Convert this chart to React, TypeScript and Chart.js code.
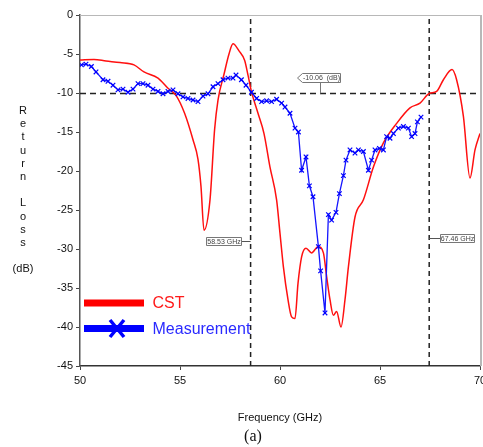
import React, { useEffect, useRef } from "react";
import { Chart, registerables } from "chart.js";

Chart.register(...registerables);

// CST simulation (frequency GHz, return loss dB)
const cstFreq = [50, 50.7, 51.3, 52, 52.7, 53.2, 53.9, 54.4, 54.8, 55.23, 55.65, 55.9, 56.05, 56.2, 56.5, 56.73, 56.9, 57.2, 57.45, 57.65, 57.95, 58.23, 58.4, 58.57, 58.9, 59.2, 59.5, 59.83, 60, 60.17, 60.4, 60.58, 60.75, 60.9, 61.08, 61.3, 61.58, 61.9, 62.17, 62.33, 62.5, 62.67, 62.83, 63.05, 63.25, 63.42, 63.75, 64.17, 64.67, 65.17, 65.83, 66.5, 67, 67.46, 67.83, 68.17, 68.6, 68.83, 69.17, 69.5, 69.75, 70];
const cstDb = [-5.77, -5.7, -5.9, -6.1, -6.4, -7.3, -8.1, -9.4, -10.3, -12.6, -16, -18.5, -22, -27.6, -23.7, -14.7, -10.9, -7.6, -5, -3.7, -4.6, -5.8, -7.7, -9.8, -12.6, -15.2, -19.5, -23.7, -28, -32.3, -36.5, -38.7, -38.9, -34.4, -31, -29.9, -30.5, -29.7, -30.5, -33.5, -36.5, -38.5, -38, -40, -36.5, -32.3, -25.9, -23.7, -19.5, -16.4, -13.9, -11.9, -11.3, -10.06, -9.8, -8.3, -7, -8.3, -13, -20.9, -17.3, -15.2];

// Measurement
const measFreq = [50.07, 50.3, 50.57, 50.8, 51.15, 51.4, 51.65, 51.9, 52.15, 52.4, 52.65, 52.9, 53.15, 53.4, 53.65, 53.9, 54.15, 54.4, 54.65, 54.9, 55.15, 55.4, 55.65, 55.9, 56.15, 56.4, 56.65, 56.9, 57.15, 57.4, 57.65, 57.8, 58.07, 58.3, 58.57, 58.83, 59.08, 59.33, 59.58, 59.83, 60.08, 60.25, 60.5, 60.75, 60.92, 61.08, 61.3, 61.47, 61.65, 61.92, 62.03, 62.25, 62.42, 62.58, 62.8, 62.97, 63.17, 63.3, 63.5, 63.75, 63.92, 64.17, 64.42, 64.58, 64.75, 64.97, 65.17, 65.33, 65.5, 65.67, 65.92, 66.17, 66.42, 66.58, 66.75, 66.87, 67.05];
const measDb = [-6.4, -6.3, -6.6, -7.3, -8.3, -8.5, -9.0, -9.6, -9.5, -9.9, -9.5, -8.8, -8.8, -9.0, -9.5, -9.8, -10.1, -9.8, -9.6, -10.1, -10.5, -10.7, -10.9, -11.1, -10.4, -10.1, -9.2, -8.8, -8.3, -8.1, -8.1, -7.7, -8.3, -9.0, -9.9, -10.7, -11.1, -11.0, -11.1, -10.8, -11.3, -11.8, -12.6, -14.5, -15.0, -19.9, -18.2, -21.9, -23.3, -29.7, -32.8, -38.2, -25.6, -26.3, -25.3, -22.9, -20.6, -18.6, -17.3, -17.7, -17.3, -17.5, -19.9, -18.6, -17.3, -17.1, -17.3, -15.6, -15.8, -15.2, -14.5, -14.3, -14.5, -15.6, -15.2, -13.7, -13.1];

// Markers
const markerLevel = -10.06;
const markerFreqs = [58.53, 67.46];
const xRange = [50, 70];
const yRange = [-45, 0];
const tickStep = 5;

const yTitleParts = ["R", "e", "t", "u", "r", "n", "", "L", "o", "s", "s", "", "(dB)"];

const FONT = "'Liberation Sans', Arial, sans-serif";

const decorPlugin = {
  id: "decor",
  afterDraw(chart: any) {
    const ctx = chart.ctx as CanvasRenderingContext2D;
    const { chartArea } = chart;
    const xs = chart.scales.x;
    const ys = chart.scales.y;
    ctx.save();
    // top & right frame
    ctx.strokeStyle = "#b8b8b8";
    ctx.lineWidth = 1;
    ctx.beginPath();
    ctx.moveTo(chartArea.left, chartArea.top + 0.5);
    ctx.lineTo(chartArea.right + 1, chartArea.top + 0.5);
    ctx.stroke();
    ctx.lineWidth = 2;
    ctx.beginPath();
    ctx.moveTo(chartArea.right + 1, chartArea.top);
    ctx.lineTo(chartArea.right + 1, chartArea.bottom);
    ctx.stroke();

    // Y title stacked letters
    ctx.fillStyle = "#111";
    ctx.font = `11px ${FONT}`;
    ctx.textAlign = "center";
    ctx.textBaseline = "middle";
    const yStart = 111;
    const yStep = 13.2;
    yTitleParts.forEach((t, i) => {
      if (t) ctx.fillText(t, 23, yStart + i * yStep);
    });

    // X title
    ctx.fillText("Frequency (GHz)", 280, 418);
    ctx.font = `16px 'Liberation Serif', 'Times New Roman', serif`;
    ctx.fillText("(a)", 253, 437);

    // annotation boxes
    const drawBox = (x: number, y: number, w: number, h: number, text: string, arrowLeft = false) => {
      ctx.fillStyle = "#fff";
      ctx.strokeStyle = "#777";
      ctx.lineWidth = 1;
      ctx.beginPath();
      if (arrowLeft) {
        ctx.moveTo(x - 5, y + h / 2);
        ctx.lineTo(x, y);
        ctx.lineTo(x + w, y);
        ctx.lineTo(x + w, y + h);
        ctx.lineTo(x, y + h);
        ctx.closePath();
      } else {
        ctx.rect(x, y, w, h);
      }
      ctx.fill();
      ctx.stroke();
      ctx.fillStyle = "#444";
      ctx.font = `7px ${FONT}`;
      ctx.textAlign = "center";
      ctx.textBaseline = "middle";
      ctx.fillText(text, x + w / 2, y + h / 2 + 0.5);
    };

    const yLevel = ys.getPixelForValue(markerLevel);
    const x1 = xs.getPixelForValue(markerFreqs[0]);
    const x2 = xs.getPixelForValue(markerFreqs[1]);

    // -10.06 (dB) callout
    ctx.strokeStyle = "#777";
    ctx.lineWidth = 1;
    ctx.beginPath();
    ctx.moveTo(320.5, 82);
    ctx.lineTo(320.5, yLevel);
    ctx.stroke();
    drawBox(302.5, 73.5, 38, 9, `${markerLevel.toFixed(2)}  (dB)`, true);

    // 58.53 GHz
    ctx.strokeStyle = "#555";
    ctx.beginPath();
    ctx.moveTo(241, 241.5);
    ctx.lineTo(x1, 241.5);
    ctx.stroke();
    drawBox(206.5, 237.5, 35, 8, `${markerFreqs[0].toFixed(2)} GHz`);

    // 67.46 GHz
    ctx.strokeStyle = "#555";
    ctx.beginPath();
    ctx.moveTo(x2, 238.5);
    ctx.lineTo(440, 238.5);
    ctx.stroke();
    drawBox(440.5, 234.5, 34, 8, `${markerFreqs[1].toFixed(2)} GHz`);

    // legend
    ctx.fillStyle = "#ff0000";
    ctx.fillRect(84, 299.5, 60, 7);
    ctx.fillStyle = "#0000ff";
    ctx.fillRect(84, 325, 60, 7);
    ctx.strokeStyle = "#0000ff";
    ctx.lineWidth = 3.5;
    ctx.beginPath();
    ctx.moveTo(110, 320);
    ctx.lineTo(124, 337);
    ctx.moveTo(124, 320);
    ctx.lineTo(110, 337);
    ctx.stroke();
    ctx.font = `16px ${FONT}`;
    ctx.textAlign = "left";
    ctx.textBaseline = "middle";
    ctx.fillStyle = "#ff1a1a";
    ctx.fillText("CST", 152.5, 303.5);
    ctx.fillStyle = "#2a2aff";
    ctx.fillText("Measurement", 152.5, 329.5);
    ctx.restore();
  },
};

export default function App() {
  const ref = useRef<HTMLCanvasElement | null>(null);
  useEffect(() => {
    if (!ref.current) return;
    const dash = {
      borderColor: "#222",
      borderWidth: 1.5,
      borderDash: [6, 4],
      pointRadius: 0,
      fill: false,
      order: 3,
    };
    const chart = new Chart(ref.current, {
      type: "line",
      data: {
        datasets: [
          {
            ...dash,
            data: [
              { x: xRange[0], y: markerLevel },
              { x: xRange[1], y: markerLevel },
            ],
          },
          ...markerFreqs.map((f) => ({
            ...dash,
            borderDash: [5, 4],
            data: [
              { x: f, y: yRange[0] },
              { x: f, y: yRange[1] },
            ],
          })),
          {
            label: "CST",
            data: cstFreq.map((f, i) => ({ x: f, y: cstDb[i] })),
            borderColor: "#ff1010",
            borderWidth: 1.5,
            pointRadius: 0,
            cubicInterpolationMode: "monotone",
            order: 2,
          },
          {
            label: "Measurement",
            data: measFreq.map((f, i) => ({ x: f, y: measDb[i] })),
            borderColor: "#1515ff",
            borderWidth: 1.3,
            pointStyle: "crossRot",
            pointRadius: 3.2,
            pointBorderWidth: 1.2,
            pointBorderColor: "#0000ff",
            order: 1,
          },
        ] as any,
      },
      options: {
        responsive: false,
        animation: false,
        devicePixelRatio: 1,
        layout: { autoPadding: false, padding: { left: 0, right: 3, top: 15, bottom: 0 } } as any,
        plugins: { legend: { display: false }, tooltip: { enabled: false } },
        scales: {
          x: {
            type: "linear",
            min: xRange[0],
            max: xRange[1],
            afterFit: (s: any) => {
              s.height = 81;
              s.paddingLeft = 0;
              s.paddingRight = 0;
            },
            ticks: {
              stepSize: tickStep,
              color: "#111",
              font: { family: FONT, size: 11 },
              padding: 4,
              maxRotation: 0,
            },
            grid: { drawOnChartArea: false, drawTicks: true, tickLength: 4, color: "#444" },
            border: { display: true, color: "#333", width: 1.5 },
          },
          y: {
            type: "linear",
            min: yRange[0],
            max: yRange[1],
            afterFit: (s: any) => {
              s.width = 80;
              s.paddingTop = 0;
              s.paddingBottom = 0;
            },
            ticks: {
              stepSize: tickStep,
              color: "#111",
              font: { family: FONT, size: 11 },
              padding: 3,
            },
            grid: { drawOnChartArea: false, drawTicks: true, tickLength: 4, color: "#444" },
            border: { display: true, color: "#555", width: 1.5 },
          },
        },
      },
      plugins: [decorPlugin],
    });
    return () => chart.destroy();
  }, []);
  return (
    <div style={{ position: "absolute", left: 0, top: 0, width: 483, height: 447, background: "#fff" }}>
      <canvas ref={ref} width={483} height={447} />
    </div>
  );
}
